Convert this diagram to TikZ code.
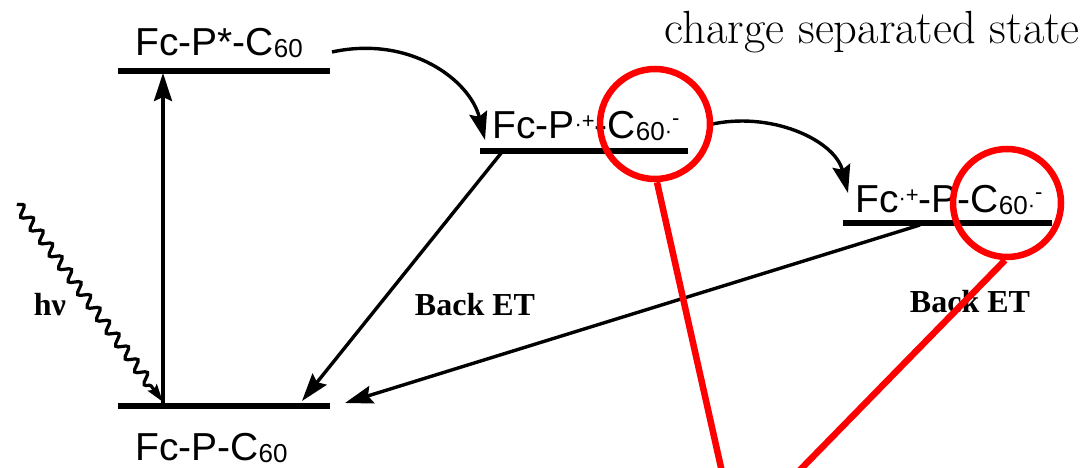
\documentclass[tikz,border=0pt]{standalone}
\usepackage{fontspec}
\setmainfont{Latin Modern Roman}
\newfontfamily\arialfont{Liberation Sans}
\newfontfamily\tmsfont{Liberation Serif}
\usetikzlibrary{arrows.meta,decorations.pathmorphing}
\newcommand{\sixty}{\raisebox{-2pt}{\fontsize{26}{26}\selectfont 60}}
\newcommand{\radp}{{\fontsize{22}{22}\selectfont\raisebox{7pt}{·}\raisebox{10pt}{+}}}
\newcommand{\radm}{{\fontsize{22}{22}\selectfont\raisebox{0pt}{·}\raisebox{13pt}{-}}}
\begin{document}
\begin{tikzpicture}[x=1pt,y=-1pt,
  level/.style={line width=5.5pt},
  arr/.style={line width=3.4pt,-{Stealth[length=28pt,width=18pt,inset=4pt]}},
  lbl/.style={font=\arialfont\fontsize{39}{39}\selectfont,inner sep=0pt,anchor=base west},
  bet/.style={font=\tmsfont\bfseries\fontsize{32}{32}\selectfont,inner sep=0pt,anchor=base},
  red/.style={draw=red,line width=6.5pt}]
\useasboundingbox (0,0) rectangle (1087,468);
% levels
\coordinate (g1) at (118,406); \coordinate (g2) at (330,406);
\coordinate (e1) at (118,71);  \coordinate (e2) at (330,71);
\coordinate (c1) at (480,151); \coordinate (c2) at (688,151);
\coordinate (s1) at (843,223); \coordinate (s2) at (1052,223);
\draw[level] (g1) -- (g2);
\draw[level] (e1) -- (e2);
\draw[level] (c1) -- (c2);
\draw[level] (s1) -- (s2);
% labels
\node[lbl] (tE) at (135,56) {Fc-P*-C\sixty};
\node[lbl] (tG) at (135,460) {Fc-P-C\sixty};
\node[lbl] (tC) at (492,139) {Fc-P\radp-C\sixty\radm};
\node[lbl] (tS) at (855,212) {Fc\radp-P-C\sixty\radm};
\node[font=\fontsize{46.5}{46.5}\selectfont,inner sep=0pt,anchor=base east] (cs) at (1080,44) {charge separated state};
\node[bet] (b1) at (475,315) {Back ET};
\node[bet] (b2) at (970,312) {Back ET};
\node[bet] (hv) at (50,315) {hν};
% excitation
\coordinate (vb) at (163,406); \coordinate (vt) at (163,73);
\draw[arr] (vb) -- (vt);
\coordinate (w0) at (17,204); \coordinate (w1) at (163,402);
\draw[line width=3.2pt,-{Stealth[length=18pt,width=11pt,inset=3pt]},
  decorate,decoration={snake,amplitude=5pt,segment length=16pt,post length=16pt}] (w0) -- (w1);
% forward ET
\coordinate (f1a) at (332,52); \coordinate (f1b) at (485,140);
\draw[arr] (f1a) .. controls (410,35) and (470,80) .. (f1b);
\coordinate (f2a) at (708,125); \coordinate (f2b) at (848,193);
\draw[arr] (f2a) .. controls (770,110) and (835,140) .. (f2b);
% back ET
\coordinate (k1a) at (502,152); \coordinate (k1b) at (302,401);
\draw[arr] (k1a) -- (k1b);
\coordinate (k2a) at (920,225); \coordinate (k2b) at (345,403);
\draw[arr] (k2a) -- (k2b);
% red highlights
\node[red,circle,minimum size=110pt,inner sep=0pt] (r1) at (655,124) {};
\node[red,circle,minimum size=108pt,inner sep=0pt] (r2) at (1007,203) {};
\coordinate (rl1) at (722,472); \coordinate (rl2) at (798,472);
\draw[red] (r1.south) ++(2,0) -- (rl1);
\draw[red] (r2.south) ++(-2,0) -- (rl2);
\end{tikzpicture}
\end{document}
